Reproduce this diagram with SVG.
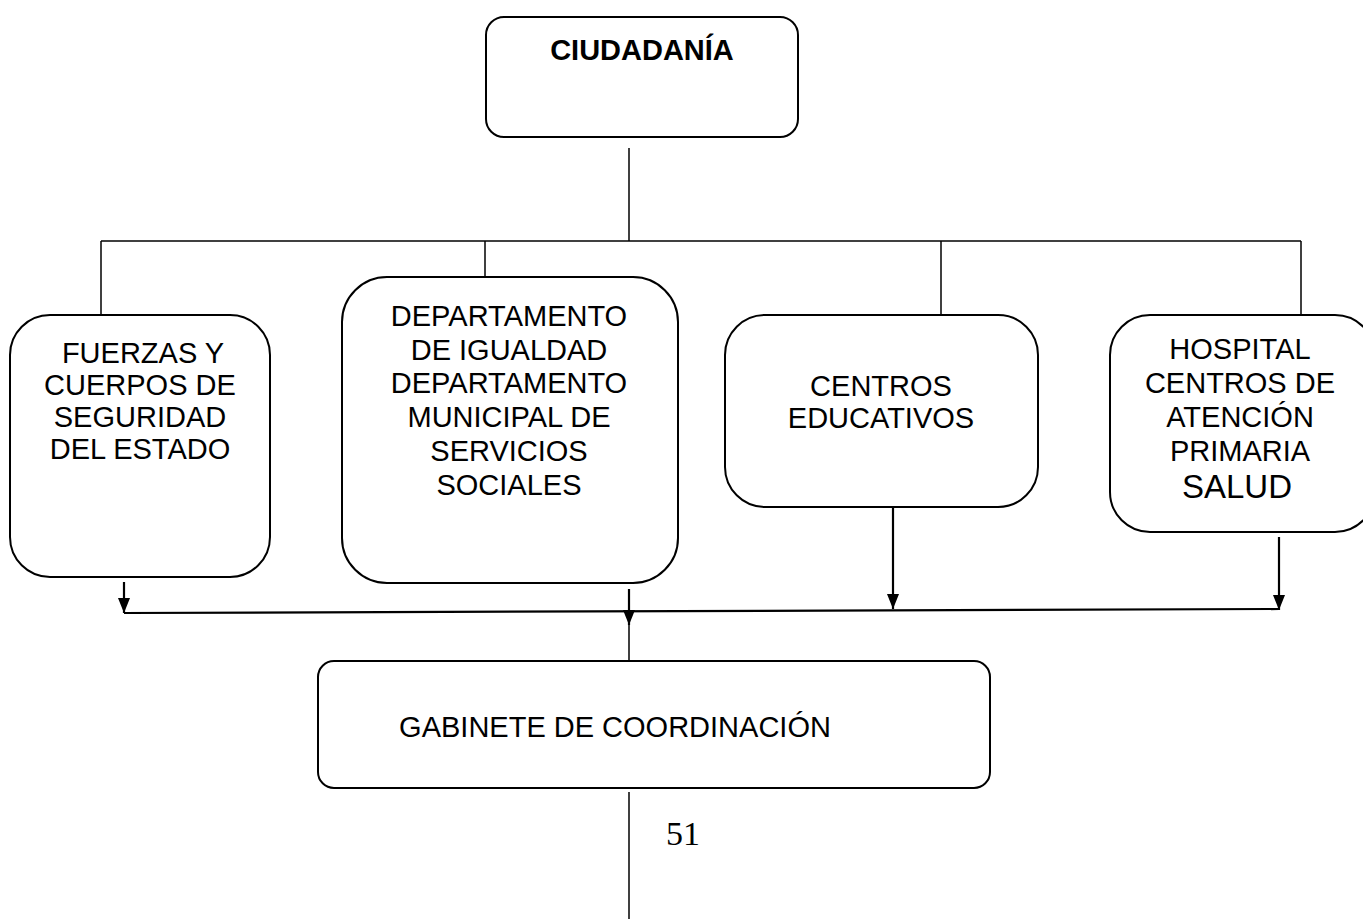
<svg xmlns="http://www.w3.org/2000/svg" width="1363" height="919" viewBox="0 0 1363 919">
<defs>
<style>
.box{fill:#fff;stroke:#000;stroke-width:2}
.t{font-family:"Liberation Sans",Arial,sans-serif;font-size:29px;fill:#000;text-anchor:middle}
.b{font-weight:bold}
.c{fill:none;stroke:#000;stroke-width:1.5}
.a{fill:none;stroke:#000;stroke-width:2.2}
</style>
<marker id="arr" viewBox="0 0 15 12" refX="15" refY="6" markerWidth="15" markerHeight="12" markerUnits="userSpaceOnUse" orient="auto">
<path d="M0,0 L15,6 L0,12 z" fill="#000"/>
</marker>
</defs>
<rect width="1363" height="919" fill="#fff"/>
<g id="connectors">
<line class="c" x1="629" y1="148" x2="629" y2="241"/>
<line class="c" x1="101" y1="241" x2="1301" y2="241"/>
<line class="c" x1="101" y1="241" x2="101" y2="315"/>
<line class="c" x1="485" y1="241" x2="485" y2="277"/>
<line class="c" x1="941" y1="241" x2="941" y2="315"/>
<line class="c" x1="1301" y1="241" x2="1301" y2="315"/>
<line class="a" x1="124" y1="613" x2="1279" y2="609"/>
<line class="a" x1="124" y1="582" x2="124" y2="613" marker-end="url(#arr)"/>
<line class="a" x1="629" y1="589" x2="629" y2="625" marker-end="url(#arr)"/>
<line class="c" x1="629" y1="620" x2="629" y2="661"/>
<line class="a" x1="893" y1="507" x2="893" y2="609" marker-end="url(#arr)"/>
<line class="a" x1="1279" y1="537" x2="1279" y2="610" marker-end="url(#arr)"/>
<line class="c" x1="629" y1="792" x2="629" y2="919"/>
</g>
<g id="ciudadania">
<rect class="box" x="486" y="17" width="312" height="120" rx="18"/>
<text class="t b" x="642" y="60" font-size="26.5">CIUDADANÍA</text>
</g>
<g id="fuerzas">
<rect class="box" x="10" y="315" width="260" height="262" rx="40"/>
<text class="t"><tspan x="143" y="363">FUERZAS Y</tspan><tspan x="140" y="395">CUERPOS DE</tspan><tspan x="140" y="427">SEGURIDAD</tspan><tspan x="140" y="459">DEL ESTADO</tspan></text>
</g>
<g id="departamento">
<rect class="box" x="342" y="277" width="336" height="306" rx="45"/>
<text class="t"><tspan x="509" y="326">DEPARTAMENTO</tspan><tspan x="509" y="360">DE IGUALDAD</tspan><tspan x="509" y="393">DEPARTAMENTO</tspan><tspan x="509" y="427">MUNICIPAL DE</tspan><tspan x="509" y="461">SERVICIOS</tspan><tspan x="509" y="495">SOCIALES</tspan></text>
</g>
<g id="centros">
<rect class="box" x="725" y="315" width="313" height="192" rx="40"/>
<text class="t"><tspan x="881" y="396">CENTROS</tspan><tspan x="881" y="428">EDUCATIVOS</tspan></text>
</g>
<g id="hospital">
<rect class="box" x="1110" y="315" width="265" height="217" rx="40"/>
<text class="t"><tspan x="1240" y="359">HOSPITAL</tspan><tspan x="1240" y="393">CENTROS DE</tspan><tspan x="1240" y="427">ATENCIÓN</tspan><tspan x="1240" y="461">PRIMARIA</tspan><tspan x="1237" y="498" font-size="33">SALUD</tspan></text>
</g>
<g id="gabinete">
<rect class="box" x="318" y="661" width="672" height="127" rx="16"/>
<text class="t" x="615" y="737">GABINETE DE COORDINACIÓN</text>
</g>
<text x="666" y="845" font-family="'Liberation Serif','Times New Roman',serif" font-size="34" fill="#000">51</text>
</svg>
